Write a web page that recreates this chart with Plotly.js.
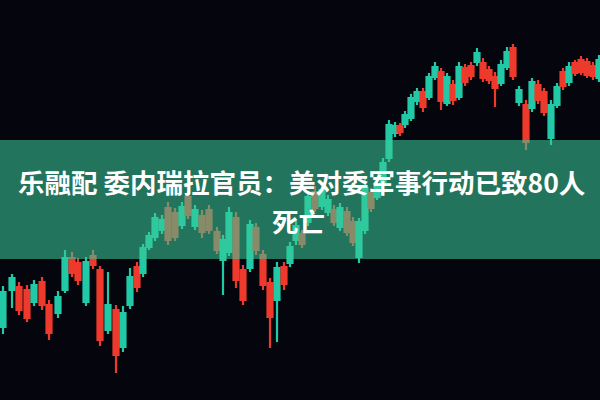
<!DOCTYPE html>
<html>
<head>
<meta charset="utf-8">
<script src="https://cdn.plot.ly/plotly-3.0.1.min.js"></script>
<style>
  html, body { margin: 0; padding: 0; background: #05050e; }
  #chart { width: 600px; height: 400px; }
  .cartesianlayer .trace { filter: blur(0.7px); }
</style>
</head>
<body>
<div id="chart"></div>
<script>
// Candle time positions
const times = [3,12,19,27,34,42,49,58,65,72,78,86,93,100,108,116,123,130,137,143,
  149,155,162,168,175,182,188,195,202,209,217,223,229,236,243,250,256,263,270,277,
  284,290,296,302,308,315,322,328,334,340,347,353,359,365,371,377,383,389,395,400,
  405,411,417,423,429,435,441,447,453,459,465,471,477,483,489,495,501,507,513,519,
  526,532,538,544,551,557,563,569,575,581,587,593,599];

const openVals = [73,110,113,110,98,118,95,87,110,142,137,98,144,130,70,90,53,95,133,127,
  153,163,170,192,187,175,203,174,184,190,168,140,148,182,130,132,172,145,117,100,
  133,137,160,166,178,208,194,188,190,173,188,178,143,170,207,203,218,242,267,274,
  276,282,299,308,303,323,328,297,315,303,332,334,338,337,330,323,317,333,352,298,
  295,292,315,308,262,295,328,318,337,340,338,334,322];

const highVals = [114,126,118,115,120,123,100,109,150,148,142,143,150,134,128,95,94,132,138,156,
  168,187,185,198,192,198,209,195,190,195,173,165,193,188,135,180,177,150,122,138,
  138,158,180,170,208,214,215,205,195,197,193,183,182,222,212,220,242,280,278,277,
  289,306,312,312,327,338,332,327,320,338,336,338,352,342,334,328,340,353,356,314,
  300,322,320,312,300,317,332,338,340,344,342,338,345];

const lowVals = [66,92,85,78,94,90,60,82,107,123,115,94,131,54,66,27,48,91,108,123,
  150,159,166,155,159,171,181,170,162,166,146,105,144,112,95,128,145,110,52,58,
  110,133,155,152,174,188,190,184,174,169,164,154,137,166,188,200,214,238,263,264,
  272,279,295,288,300,320,290,294,295,300,314,320,334,318,316,293,314,330,320,294,
  250,288,296,284,255,292,310,314,324,325,322,320,318];

const closeVals = [108,122,90,82,115,95,67,103,142,127,120,138,135,60,95,45,87,123,113,152,
  164,182,180,160,163,193,185,190,168,170,150,160,187,120,100,175,150,115,83,132,
  116,153,174,156,203,192,210,200,178,192,168,158,178,212,192,215,237,275,274,268,
  285,302,308,293,323,333,299,323,300,333,318,324,347,322,320,312,335,348,324,310,
  258,318,300,288,295,313,314,333,327,328,325,324,340];

const headlineLine1 = "乐融配 委内瑞拉官员：美对委军事行动已致80人";
const headlineLine2 = "死亡";

const trace = {
  type: 'candlestick',
  x: times,
  open: openVals,
  high: highVals,
  low: lowVals,
  close: closeVals,
  increasing: { line: { color: '#22c9a7', width: 2.2 }, fillcolor: '#22c9a7' },
  decreasing: { line: { color: '#ee3a2c', width: 2.2 }, fillcolor: '#ee3a2c' },
  whiskerwidth: 0,
  hoverinfo: 'skip'
};

const titleFont = { family: '"Noto Sans CJK SC", "Noto Sans", sans-serif', size: 26.5, color: '#ffffff', weight: 'bold' };

const layout = {
  width: 600,
  height: 400,
  margin: { l: 0, r: 0, t: 0, b: 0, pad: 0 },
  paper_bgcolor: '#05050e',
  plot_bgcolor: '#05050e',
  showlegend: false,
  boxgap: 0,
  boxgroupgap: 0,
  xaxis: { range: [0, 600], visible: false, fixedrange: true, rangeslider: { visible: false } },
  yaxis: { range: [0, 400], visible: false, fixedrange: true },
  shapes: [{
    type: 'rect', xref: 'paper', yref: 'paper',
    x0: 0, x1: 1, y0: 0.3525, y1: 0.65,
    fillcolor: 'rgba(58,200,152,0.57)', line: { width: 0 }, layer: 'above'
  }],
  annotations: [
    {
      xref: 'paper', yref: 'paper', x: 0.502, y: 0.546,
      xanchor: 'center', yanchor: 'middle',
      text: headlineLine1, showarrow: false, font: titleFont
    },
    {
      xref: 'paper', yref: 'paper', x: 0.497, y: 0.45,
      xanchor: 'center', yanchor: 'middle',
      text: headlineLine2, showarrow: false, font: titleFont
    }
  ]
};

Plotly.newPlot('chart', [trace], layout, { staticPlot: true, displayModeBar: false });
</script>
</body>
</html>
